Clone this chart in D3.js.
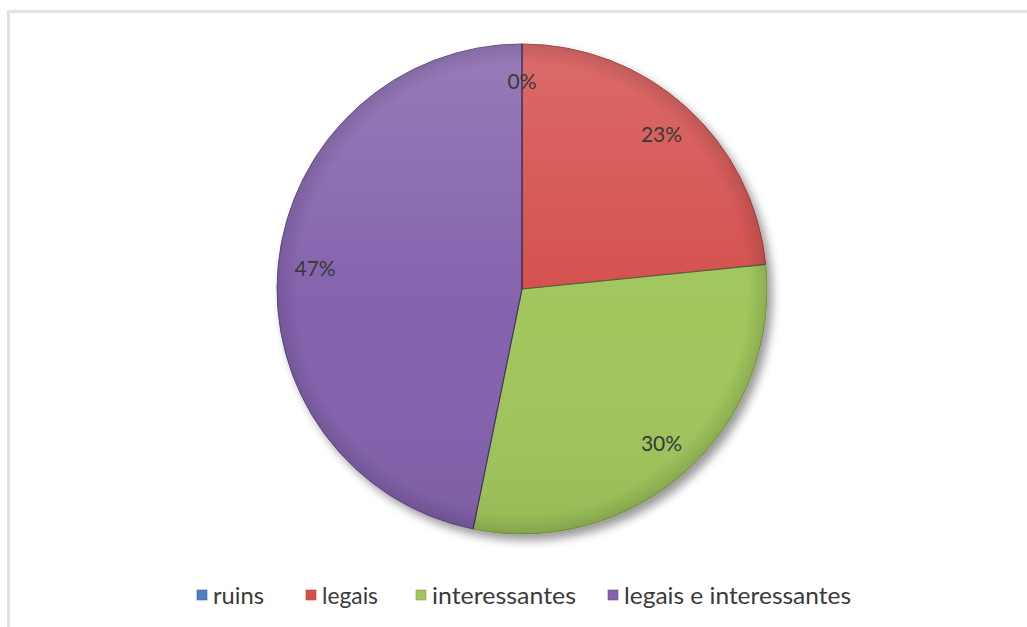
<!DOCTYPE html>
<html><head><meta charset="utf-8">
<script src="https://cdn.jsdelivr.net/npm/d3@7"></script>
<style>html,body{margin:0;padding:0;background:#fff;}svg{display:block;}</style>
</head><body>
<svg id="c" width="1027" height="627"></svg>
<script>
const categories = ["ruins", "legais", "interessantes", "legais e interessantes"];
const values = [0, 23.4, 29.8, 46.8];
const labels = ["0%", "23%", "30%", "47%"];
const colors = ["#4f81bd", "#d4504d", "#a0c65c", "#8462ad"];

const svg = d3.select("#c");
const cx = 522, cy = 289, R = 245;

svg.append("rect").attr("x", 8.5).attr("y", 11.5).attr("width", 1040).attr("height", 640)
  .attr("fill", "#fff").attr("stroke", "#e2e2e2").attr("stroke-width", 3);

const defs = svg.append("defs");
const f = defs.append("filter").attr("id", "sh").attr("x", "-20%").attr("y", "-20%").attr("width", "140%").attr("height", "140%");
f.append("feGaussianBlur").attr("in", "SourceAlpha").attr("stdDeviation", 5);
f.append("feOffset").attr("dx", 5).attr("dy", 6).attr("result", "b");
f.append("feComponentTransfer").append("feFuncA").attr("type", "linear").attr("slope", 0.4);
const m = f.append("feMerge"); m.append("feMergeNode"); m.append("feMergeNode").attr("in", "SourceGraphic");

const lg = defs.append("linearGradient").attr("id", "gl").attr("x1", 0).attr("y1", 0).attr("x2", 0).attr("y2", 1);
lg.append("stop").attr("offset", "0%").attr("stop-color", "#fff").attr("stop-opacity", 0.16);
lg.append("stop").attr("offset", "55%").attr("stop-color", "#fff").attr("stop-opacity", 0.0);
lg.append("stop").attr("offset", "100%").attr("stop-color", "#000").attr("stop-opacity", 0.06);

const rg = defs.append("radialGradient").attr("id", "rg");
rg.append("stop").attr("offset", "92%").attr("stop-color", "#000").attr("stop-opacity", 0);
rg.append("stop").attr("offset", "100%").attr("stop-color", "#000").attr("stop-opacity", 0.12);

const pie = d3.pie().sort(null).value(d => d)(values);
const arc = d3.arc().innerRadius(0).outerRadius(R);
const g = svg.append("g").attr("transform", `translate(${cx},${cy})`);

const slices = g.append("g").attr("filter", "url(#sh)");
slices.selectAll("path").data(pie).join("path")
  .attr("d", arc).attr("fill", (d, i) => colors[i])
  .attr("stroke", (d, i) => d3.color(colors[i]).darker(0.8)).attr("stroke-width", 1);
g.append("circle").attr("r", R).attr("fill", "url(#gl)");
g.append("circle").attr("r", R).attr("fill", "url(#rg)");
g.selectAll("line.sep").data(pie).join("line").attr("class", "sep")
  .attr("x1", 0).attr("y1", 0)
  .attr("x2", d => R * Math.sin(d.startAngle)).attr("y2", d => -R * Math.cos(d.startAngle))
  .attr("stroke", "rgba(40,20,60,0.45)").attr("stroke-width", 1.2);

const la = d3.arc().innerRadius(208).outerRadius(208);
g.selectAll("text.lbl").data(pie).join("text").attr("class", "lbl")
  .attr("transform", d => `translate(${la.centroid(d)})`)
  .attr("text-anchor", "middle").attr("dy", "0.36em")
  .attr("font-family", "Lato, 'Open Sans', sans-serif").attr("font-size", 21)
  .attr("fill", "#383838")
  .text((d, i) => labels[i]);

const legendX = [197, 306, 416, 608];
const legendW = [51, 56, 144, 227];
const leg = svg.append("g").attr("transform", "translate(0,595)");
const items = leg.selectAll("g").data(categories).join("g")
  .attr("transform", (d, i) => `translate(${legendX[i]},0)`);
items.append("rect").attr("x", 0).attr("y", -5).attr("width", 10).attr("height", 10)
  .attr("fill", (d, i) => colors[i]).attr("stroke", (d, i) => d3.color(colors[i]).darker(0.6)).attr("stroke-width", 0.6);
items.append("text").attr("x", 16).attr("dy", "0.36em")
  .attr("font-family", "Lato, sans-serif").attr("font-size", 24).attr("fill", "#3a3a3a")
  .attr("textLength", (d, i) => legendW[i]).attr("lengthAdjust", "spacingAndGlyphs")
  .text(d => d);
</script>
</body></html>
